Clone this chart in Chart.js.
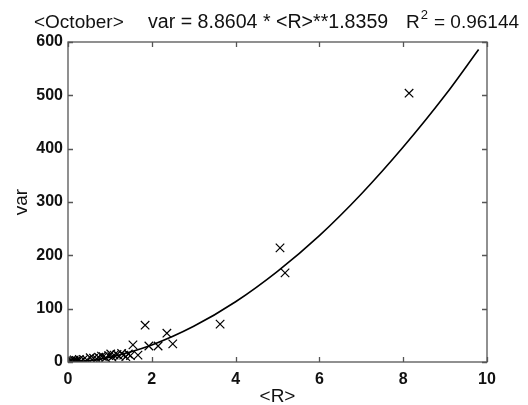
<!DOCTYPE html>
<html>
<head>
<meta charset="utf-8">
<script src="https://cdn.jsdelivr.net/npm/chart.js@4.4.0/dist/chart.umd.min.js"></script>
<style>
  html, body { margin: 0; padding: 0; background: #fff; }
  #wrap { width: 528px; height: 405px; position: relative; }
</style>
</head>
<body>
<div id="wrap"><canvas id="c"></canvas></div>
<script>
// ── October fit: var vs <R> ──

// Measured points (x = <R>, y = var)
const obsR = [
  0.05, 0.08, 0.10, 0.13, 0.15, 0.18, 0.20, 0.24, 0.27, 0.30,
  0.37, 0.45, 0.53, 0.61, 0.68, 0.73, 0.80, 0.84, 0.90, 0.97,
  1.02, 1.05, 1.10, 1.17, 1.22, 1.28, 1.33, 1.38, 1.44, 1.49,
  1.55, 1.67, 1.84, 1.93, 2.15, 2.36, 2.50, 3.63, 5.06, 5.18, 8.14
];
const obsVar = [
  1, 3, 0, 2, 4, 1, 3, 2, 5, 1,
  5, 4, 8, 7, 6, 9, 11, 10, 8, 12,
  15, 9, 13, 14, 11, 16, 13, 10, 15, 12,
  32, 13, 69, 30, 30, 54, 34, 71, 214, 167, 504
];

// Fitted curve
const fitR   = [0, 0.5, 1, 2, 3, 4, 5, 6, 7, 8, 9, 9.8];
const fitVar = [0, 2.5, 9, 32, 67, 113, 170, 237, 315, 403, 500, 586];

// Axis ticks
const xTicks = [0, 2, 4, 6, 8, 10];
const yTicks = [0, 100, 200, 300, 400, 500, 600];

const titleParts = {
  month: '<October>',
  fit: 'var = 8.8604 * <R>**1.8359',
  r2: '= 0.96144'
};

const FONT = "'Liberation Sans', Arial, sans-serif";
const AXIS = '#555555';

// Inward MATLAB-style ticks + box
const framePlugin = {
  id: 'frame',
  afterDraw(chart) {
    const { ctx, chartArea: a, scales } = chart;
    ctx.save();
    ctx.strokeStyle = AXIS;
    ctx.lineWidth = 1.3;
    ctx.strokeRect(a.left, a.top, a.right - a.left, a.bottom - a.top);
    const len = 5;
    ctx.beginPath();
    xTicks.forEach(v => {
      const px = Math.round(scales.x.getPixelForValue(v)) + 0.5;
      ctx.moveTo(px, a.bottom); ctx.lineTo(px, a.bottom - len);
      ctx.moveTo(px, a.top); ctx.lineTo(px, a.top + len);
    });
    yTicks.forEach(v => {
      const py = Math.round(scales.y.getPixelForValue(v)) + 0.5;
      ctx.moveTo(a.left, py); ctx.lineTo(a.left + len, py);
      ctx.moveTo(a.right, py); ctx.lineTo(a.right - len, py);
    });
    ctx.stroke();
    ctx.restore();
  }
};

// Title line with superscript R^2
const titlePlugin = {
  id: 'titleLine',
  afterDraw(chart) {
    const ctx = chart.ctx;
    ctx.save();
    ctx.fillStyle = '#111';
    ctx.textBaseline = 'alphabetic';
    const base = 28;
    ctx.font = '19px ' + FONT;
    ctx.fillText(titleParts.month, 34, base);
    ctx.font = '19.6px ' + FONT;
    ctx.fillText(titleParts.fit, 148, base);
    ctx.font = '19px ' + FONT;
    ctx.fillText('R', 406, base);
    const rw = ctx.measureText('R').width;
    ctx.font = '13px ' + FONT;
    ctx.fillText('2', 406 + rw + 1, base - 9);
    ctx.font = '19px ' + FONT;
    ctx.fillText(titleParts.r2, 434, base);
    ctx.restore();
  }
};

new Chart(document.getElementById('c'), {
  type: 'scatter',
  data: {
    datasets: [
      {
        label: 'fit',
        data: fitR.map((x, i) => ({ x, y: fitVar[i] })),
        showLine: true,
        borderColor: '#000',
        borderWidth: 1.6,
        pointRadius: 0,
        cubicInterpolationMode: 'monotone',
        fill: false,
        order: 2
      },
      {
        label: 'obs',
        data: obsR.map((x, i) => ({ x, y: obsVar[i] })),
        pointStyle: 'crossRot',
        pointRadius: 6,
        borderColor: '#000',
        borderWidth: 1.2,
        backgroundColor: '#000',
        order: 1
      }
    ]
  },
  options: {
    responsive: true,
    maintainAspectRatio: false,
    animation: false,
    events: [],
    layout: { padding: { top: 42, right: 41, left: 0, bottom: 0 } },
    plugins: { legend: { display: false }, tooltip: { enabled: false } },
    scales: {
      x: {
        type: 'linear',
        min: 0, max: 10,
        afterBuildTicks: s => { s.ticks = xTicks.map(v => ({ value: v })); },
        afterFit: s => { s.height = 43; },
        grid: { display: false, drawTicks: false },
        border: { display: false },
        ticks: { color: '#111', padding: 8, font: { family: FONT, size: 16, weight: 'bold' } },
        title: { display: true, text: '<R>', color: '#111', padding: { top: 0, bottom: 0 }, font: { family: FONT, size: 19, lineHeight: 0.9 } }
      },
      y: {
        type: 'linear',
        min: 0, max: 600,
        afterBuildTicks: s => { s.ticks = yTicks.map(v => ({ value: v })); },
        afterFit: s => { s.width = 68; },
        grid: { display: false, drawTicks: false },
        border: { display: false },
        ticks: { color: '#111', padding: 5, font: { family: FONT, size: 16, weight: 'bold' } },
        title: { display: true, text: 'var', color: '#111', padding: { top: 10, bottom: 0 }, font: { family: FONT, size: 19 } }
      }
    }
  },
  plugins: [framePlugin, titlePlugin]
});
</script>
</body>
</html>
